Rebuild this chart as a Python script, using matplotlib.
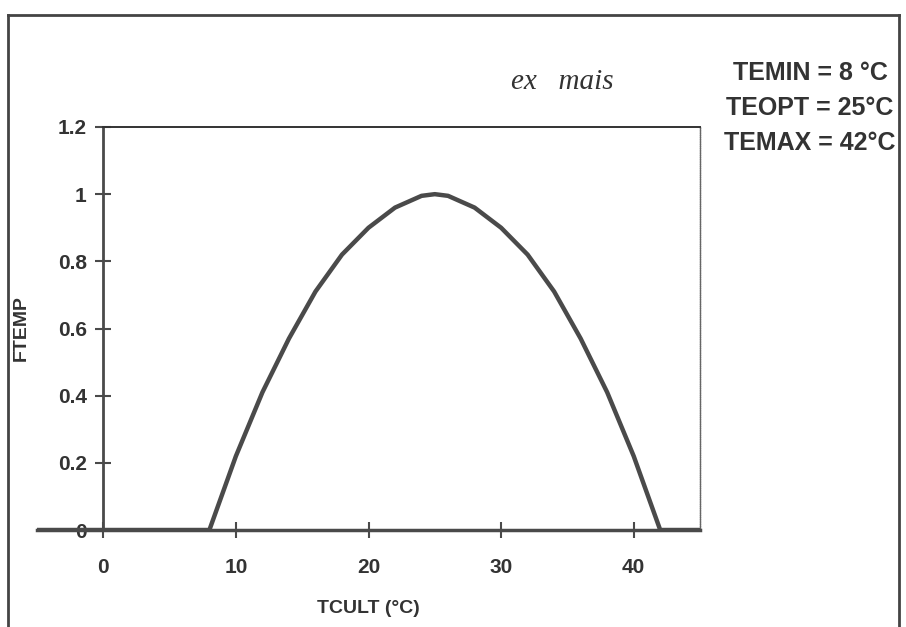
import matplotlib
matplotlib.use("Agg")
import matplotlib.pyplot as plt
from matplotlib.lines import Line2D

# temperatura de cultivo (°C) e fator de temperatura
tcult = [-5, 8, 10, 12, 14, 16, 18, 20, 22, 24, 25, 26, 28, 30, 32, 34, 36, 38, 40, 42, 45]
ftemp = [0, 0, 0.22, 0.41, 0.57, 0.71, 0.82, 0.90, 0.96, 0.995, 1.0, 0.995, 0.96, 0.90, 0.82, 0.71, 0.57, 0.41, 0.22, 0, 0]

xticks = [0, 10, 20, 30, 40]
yticks = [0, 0.2, 0.4, 0.6, 0.8, 1, 1.2]
yticklabels = ["0", "0.2", "0.4", "0.6", "0.8", "1", "1.2"]
parametros = ["TEMIN = 8 °C", "TEOPT = 25°C", "TEMAX = 42°C"]

cinza = "#4a4a4a"
plt.rcParams["font.family"] = ["Liberation Sans", "DejaVu Sans"]
plt.rcParams["font.weight"] = "bold"
plt.rcParams["axes.labelweight"] = "bold"

fig = plt.figure(figsize=(9.06, 6.27), dpi=100)
ax = fig.add_axes([37 / 906, 97 / 627, 663 / 906, 403 / 627])

ax.plot(tcult, ftemp, color=cinza, linewidth=3.2, solid_joinstyle="round", zorder=3)

ax.set_xlim(-5, 45)
ax.set_ylim(0, 1.2)

# eixo Y cruzando em x = 0, como no Excel
ax.spines["left"].set_position(("data", 0))
ax.spines["left"].set_color(cinza)
ax.spines["left"].set_linewidth(2)
ax.spines["bottom"].set_color(cinza)
ax.spines["bottom"].set_linewidth(2.5)
ax.spines["top"].set_bounds(0, 45)
ax.spines["top"].set_color("#333333")
ax.spines["top"].set_linewidth(1.4)
ax.spines["right"].set_color("#666666")
ax.spines["right"].set_linewidth(1.0)
ax.spines["right"].set_linestyle((0, (1, 0.6)))

ax.set_xticks(xticks)
ax.set_yticks(yticks)
ax.set_yticklabels(yticklabels)
ax.tick_params(direction="inout", length=12, width=1.5, colors=cinza,
               labelsize=15, labelcolor="#333333")
ax.tick_params(axis="x", pad=14)
ax.tick_params(axis="y", pad=6)

ax.set_xlabel("TCULT (°C)", fontsize=14, color="#333333", labelpad=17)
ax.set_ylabel("FTEMP", fontsize=14, color="#333333")
ax.yaxis.set_label_coords(30 / 906, (627 - 328) / 627, transform=fig.transFigure)

# moldura externa
moldura = dict(color="#444444", linewidth=2)
fig.add_artist(Line2D([8 / 906, 8 / 906], [0, 1 - 15 / 627], transform=fig.transFigure, **moldura))
fig.add_artist(Line2D([8 / 906, 899 / 906], [1 - 15 / 627, 1 - 15 / 627], transform=fig.transFigure, **moldura))
fig.add_artist(Line2D([899 / 906, 899 / 906], [0, 1 - 15 / 627], transform=fig.transFigure, **moldura))

# parametros de temperatura
for i, txt in enumerate(parametros):
    fig.text(810 / 906, 1 - (73 + 35 * i) / 627, txt, ha="center", va="center",
             fontsize=18, color="#333333")

fig.text(562 / 906, 1 - 82 / 627, "ex   mais", ha="center", va="center",
         fontsize=21, color="#333333", family="Liberation Serif",
         style="italic", weight="normal")

fig.savefig("out.png", dpi=100)
